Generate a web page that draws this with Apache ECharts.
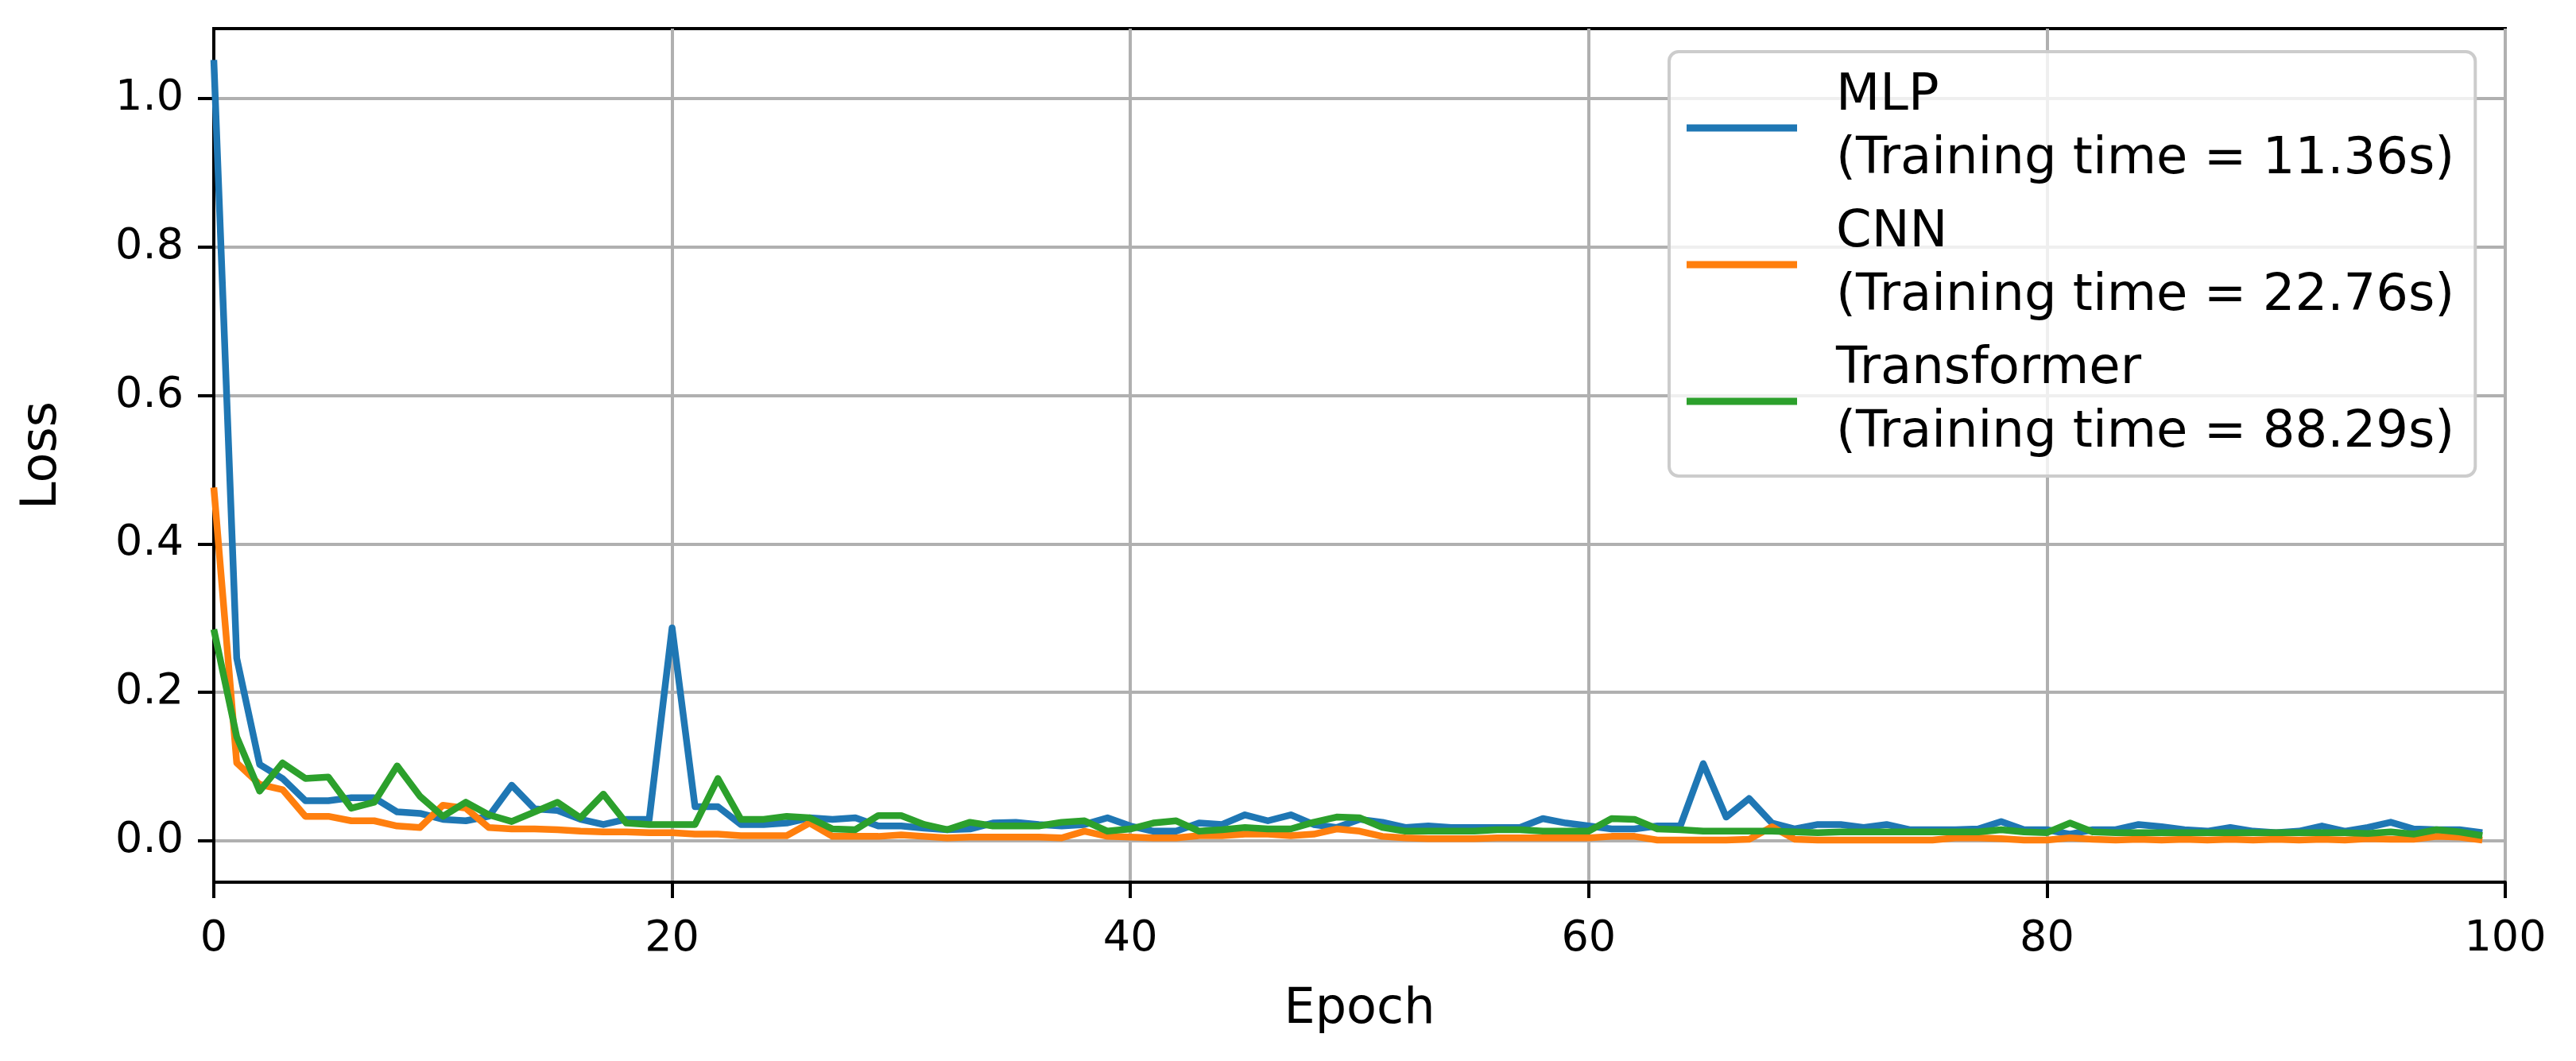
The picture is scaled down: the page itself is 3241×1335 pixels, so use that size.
<!DOCTYPE html>
<html>
<head>
<meta charset="utf-8">
<script src="https://cdn.jsdelivr.net/npm/echarts@6/dist/echarts.min.js"></script>
<style>html,body{margin:0;padding:0;background:#fff;}#chart{width:3241px;height:1335px;}</style>
</head>
<body>
<div id="chart"></div>
<script>
const seriesNames = ['MLP', 'CNN', 'Transformer'];
const trainingTimes = ['11.36', '22.76', '88.29'];
const seriesColors = ['#1f77b4', '#ff7f0e', '#2ca02c'];
const xTicks = [0, 20, 40, 60, 80, 100];
const yTicks = [0.0, 0.2, 0.4, 0.6, 0.8, 1.0];

const mlpLoss = [1.052,0.246,0.103,0.084,0.054,0.054,0.058,0.058,0.039,0.037,
0.029,0.027,0.033,0.075,0.043,0.041,0.029,0.022,0.029,0.029,
0.287,0.046,0.046,0.022,0.022,0.024,0.031,0.029,0.031,0.020,
0.020,0.017,0.015,0.016,0.024,0.025,0.022,0.020,0.022,0.031,
0.020,0.013,0.013,0.024,0.022,0.035,0.027,0.035,0.022,0.018,
0.029,0.025,0.018,0.020,0.018,0.018,0.018,0.018,0.030,0.024,
0.020,0.016,0.016,0.020,0.020,0.104,0.032,0.057,0.024,0.016,
0.022,0.022,0.018,0.022,0.015,0.015,0.015,0.016,0.026,0.015,
0.015,0.009,0.015,0.015,0.022,0.019,0.015,0.013,0.018,0.013,
0.011,0.013,0.020,0.013,0.018,0.025,0.016,0.015,0.015,0.011];

const cnnLoss = [0.476,0.105,0.076,0.069,0.033,0.033,0.027,0.027,0.020,0.018,
0.048,0.044,0.018,0.016,0.016,0.015,0.013,0.012,0.012,0.011,
0.011,0.009,0.009,0.007,0.007,0.007,0.024,0.006,0.006,0.006,
0.008,0.006,0.004,0.005,0.005,0.005,0.005,0.004,0.013,0.006,
0.005,0.004,0.004,0.007,0.007,0.009,0.009,0.007,0.009,0.016,
0.013,0.006,0.004,0.003,0.003,0.003,0.004,0.004,0.004,0.004,
0.004,0.006,0.006,0.001,0.001,0.001,0.001,0.002,0.019,0.002,
0.001,0.001,0.001,0.001,0.001,0.001,0.004,0.004,0.003,0.001,
0.001,0.004,0.002,0.001,0.002,0.001,0.002,0.001,0.002,0.001,
0.002,0.001,0.002,0.001,0.003,0.002,0.002,0.006,0.005,0.001];

const transformerLoss = [0.285,0.140,0.067,0.105,0.084,0.086,0.044,0.052,0.101,0.060,
0.033,0.052,0.035,0.026,0.039,0.052,0.031,0.063,0.024,0.022,
0.022,0.022,0.084,0.029,0.029,0.033,0.031,0.016,0.015,0.034,
0.034,0.022,0.015,0.025,0.020,0.020,0.020,0.025,0.027,0.013,
0.016,0.024,0.027,0.013,0.015,0.018,0.016,0.016,0.025,0.032,
0.031,0.018,0.013,0.013,0.013,0.013,0.015,0.015,0.013,0.013,
0.013,0.030,0.029,0.016,0.015,0.013,0.013,0.013,0.013,0.012,
0.011,0.012,0.012,0.012,0.012,0.012,0.012,0.012,0.015,0.012,
0.011,0.024,0.012,0.011,0.011,0.011,0.011,0.011,0.011,0.011,
0.011,0.011,0.011,0.011,0.010,0.012,0.009,0.015,0.012,0.007];

const allLoss = [mlpLoss, cnnLoss, transformerLoss];
const FONT = 'DejaVu Sans';

const chart = echarts.init(document.getElementById('chart'), null, {renderer: 'canvas'});
const option = {
  animation: false,
  backgroundColor: '#ffffff',
  textStyle: {fontFamily: FONT},
  grid: {left: 269, right: 89, top: 36, bottom: 225, show: true, borderColor: '#000', borderWidth: 4, backgroundColor: 'transparent'},
  xAxis: {
    type: 'value', min: 0, max: 100, interval: 20,
    name: 'Epoch', nameLocation: 'middle', nameGap: 130,
    nameTextStyle: {fontFamily: FONT, fontSize: 62, color: '#000'},
    axisLine: {show: true, onZero: false, lineStyle: {color: '#000', width: 4}},
    axisTick: {show: true, inside: false, length: 20, lineStyle: {color: '#000', width: 4}},
    axisLabel: {fontFamily: FONT, fontSize: 54, color: '#000', margin: 45, formatter: v => String(v)},
    splitLine: {show: true, lineStyle: {color: '#b0b0b0', width: 4}}
  },
  yAxis: {
    type: 'value', min: -0.0557, max: 1.0942,
    name: 'Loss', nameLocation: 'middle', nameGap: 184,
    nameTextStyle: {fontFamily: FONT, fontSize: 62, color: '#000'},
    axisLine: {show: true, onZero: false, lineStyle: {color: '#000', width: 4}},
    axisTick: {show: true, inside: false, length: 20, customValues: yTicks, lineStyle: {color: '#000', width: 4}},
    axisLabel: {fontFamily: FONT, fontSize: 54, color: '#000', margin: 38, customValues: yTicks, formatter: v => v.toFixed(1)},
    splitLine: {show: true, lineStyle: {color: '#b0b0b0', width: 4}}
  },
  legend: {
    show: true, orient: 'vertical', left: 2100, top: 65,
    padding: [16, 26, 14, 22],
    backgroundColor: 'rgba(255,255,255,0.8)', borderColor: '#cccccc', borderWidth: 4, borderRadius: 12,
    itemWidth: 139, itemHeight: 9, itemGap: 12,
    icon: 'rect',
    data: seriesNames,
    formatter: name => name + '\n(Training time = ' + trainingTimes[seriesNames.indexOf(name)] + 's)',
    textStyle: {fontFamily: FONT, fontSize: 64, color: '#000', lineHeight: 80, padding: [0, 0, 0, 44]}
  },
  series: seriesNames.map((n, i) => ({
    name: n, type: 'line', showSymbol: false, symbol: 'none',
    data: allLoss[i].map((v, k) => [k, v]),
    lineStyle: {color: seriesColors[i], width: 8.5, join: 'round'},
    itemStyle: {color: seriesColors[i]},
    clip: true
  }))
};
chart.setOption(option);
</script>
</body>
</html>
